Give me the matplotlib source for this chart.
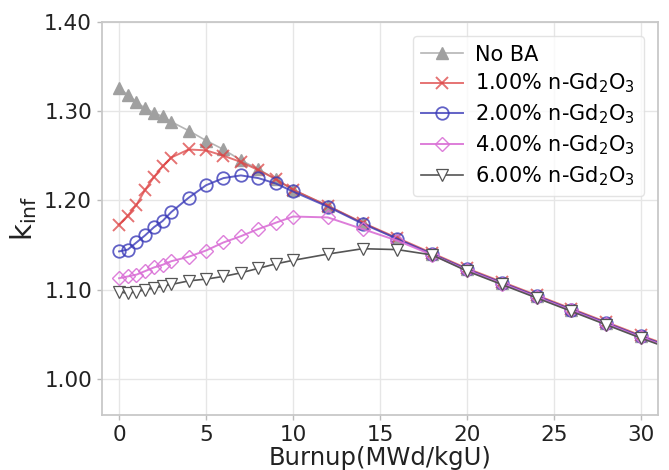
import matplotlib.pyplot as plt

# Burnup steps (MWd/kgU)
burnup = [0, 0.5, 1, 1.5, 2, 2.5, 3, 4, 5, 6, 7, 8, 9, 10,
          12, 14, 16, 18, 20, 22, 24, 26, 28, 30, 32]

# k_inf for each case
k_no_ba = [1.326, 1.318, 1.310, 1.303, 1.298, 1.294, 1.288, 1.278, 1.267, 1.257, 1.245, 1.235, 1.224, 1.212,
           1.194, 1.175, 1.157, 1.140, 1.123, 1.108, 1.093, 1.078, 1.063, 1.048, 1.034]
k_gd1 = [1.173, 1.183, 1.195, 1.212, 1.226, 1.238, 1.248, 1.257, 1.256, 1.250, 1.243, 1.234, 1.224, 1.212,
         1.194, 1.175, 1.158, 1.141, 1.124, 1.109, 1.094, 1.079, 1.064, 1.049, 1.035]
k_gd2 = [1.143, 1.145, 1.153, 1.161, 1.170, 1.177, 1.187, 1.203, 1.217, 1.225, 1.228, 1.225, 1.219, 1.210,
         1.193, 1.174, 1.157, 1.140, 1.123, 1.108, 1.093, 1.078, 1.063, 1.048, 1.034]
k_gd4 = [1.113, 1.115, 1.117, 1.121, 1.125, 1.128, 1.132, 1.137, 1.144, 1.153, 1.160, 1.168, 1.175, 1.182,
         1.181, 1.168, 1.155, 1.139, 1.122, 1.107, 1.092, 1.077, 1.062, 1.047, 1.033]
k_gd6 = [1.098, 1.096, 1.098, 1.100, 1.102, 1.104, 1.106, 1.110, 1.112, 1.115, 1.119, 1.124, 1.129, 1.133,
         1.140, 1.146, 1.145, 1.139, 1.121, 1.106, 1.091, 1.076, 1.061, 1.046, 1.032]

labels = ['No BA',
          r'1.00% n-Gd$_2$O$_3$',
          r'2.00% n-Gd$_2$O$_3$',
          r'4.00% n-Gd$_2$O$_3$',
          r'6.00% n-Gd$_2$O$_3$']

plt.rcParams['mathtext.fontset'] = 'dejavusans'

fig = plt.figure(figsize=(6.69, 4.70), dpi=100)
ax = fig.add_subplot(111)
fig.subplots_adjust(left=0.152, right=0.984, bottom=0.117, top=0.954)

ax.plot(burnup, k_no_ba, color='#b5b5b5', linewidth=1.2, marker='^', markersize=8,
        markerfacecolor='#a0a0a0', markeredgecolor='#a0a0a0', label=labels[0])
ax.plot(burnup, k_gd1, color='#dd4444', alpha=0.75, linewidth=1.4, marker='x', markersize=9,
        markeredgewidth=1.4, label=labels[1])
ax.plot(burnup, k_gd2, color='#3a3ab8', alpha=0.8, linewidth=1.4, marker='o', markersize=9,
        markerfacecolor='none', markeredgewidth=1.3, label=labels[2])
ax.plot(burnup, k_gd4, color='orchid', alpha=0.9, linewidth=1.4, marker='D', markersize=7.5,
        markerfacecolor='none', markeredgewidth=1.0, label=labels[3])
ax.plot(burnup, k_gd6, color='#555555', linewidth=1.2, marker='v', markersize=8,
        markerfacecolor='white', markeredgewidth=0.9, label=labels[4])

ax.set_xlim(-1, 31)
ax.set_ylim(0.96, 1.40)
ax.set_xticks([0, 5, 10, 15, 20, 25, 30])
ax.set_yticks([1.00, 1.10, 1.20, 1.30, 1.40])
ax.set_yticklabels(['1.00', '1.10', '1.20', '1.30', '1.40'])

ax.set_xlabel('Burnup(MWd/kgU)', fontsize=17.5, color='#222222', labelpad=1)
ax.set_ylabel(r'k$_{\mathrm{inf}}$', fontsize=21, color='#222222', labelpad=4)

ax.tick_params(labelsize=15.5, colors='#bbbbbb', labelcolor='#222222', length=3.5, width=1)
for s in ax.spines.values():
    s.set_color('#c8c8c8')
    s.set_linewidth(1.3)

ax.grid(color='#e6e6e6', linewidth=1)
ax.set_axisbelow(True)

ax.legend(fontsize=15, loc='upper right', framealpha=0.8, edgecolor='#dddddd',
          labelspacing=0.35, handletextpad=0.6, borderaxespad=0.7)

plt.savefig('out.png', dpi=100)
